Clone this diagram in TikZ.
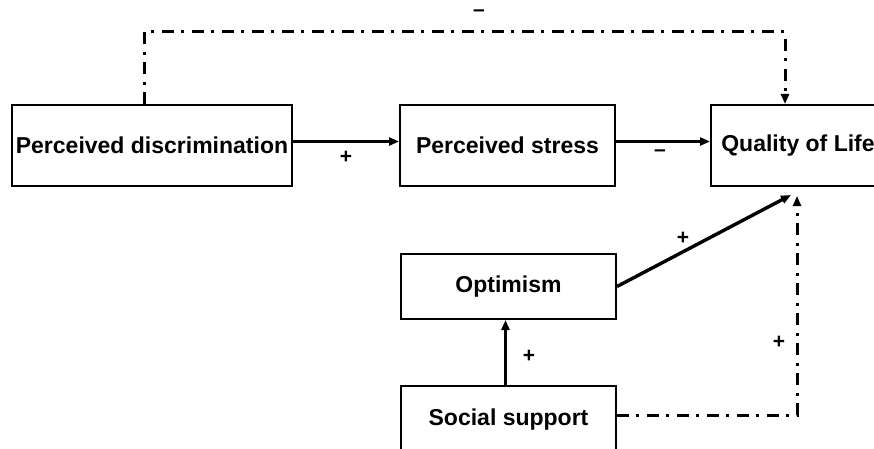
\documentclass[tikz,border=0pt]{standalone}
\usepackage{fontspec}
\setmainfont{Liberation Sans}
\usetikzlibrary{arrows.meta}
\begin{document}
\begin{tikzpicture}[x=1pt,y=-1pt,
  box/.style={draw, line width=2pt, inner sep=0pt, align=center,
    font=\bfseries\fontsize{23}{26}\selectfont},
  tip/.style={-{Triangle[length=10pt,width=8pt]}},
  link/.style={tip, line width=3.4pt},
  dashlink/.style={tip, line width=3pt, dash pattern=on 12pt off 7pt on 3pt off 8pt},
  sign/.style={font=\bfseries\fontsize{21}{24}\selectfont, inner sep=0pt}]
\useasboundingbox (0,0) rectangle (874,449);
\clip (0,0) rectangle (874,449);

% boxes
\node[box, minimum width=280pt, minimum height=81pt] (pd)  at (152,145.5) {Perceived discrimination};
\node[box, minimum width=215pt, minimum height=81pt] (ps)  at (507.5,145.5) {Perceived stress};
\node[box, minimum width=174pt, minimum height=81pt] (qol) at (798,145.5) {Quality of Life};
\node[box, minimum width=215pt, minimum height=65pt] (opt) at (508.5,286.5) {Optimism};
\node[box, minimum width=215pt, minimum height=68pt] (ss)  at (508.5,420) {Social support};

% direct paths
\draw[link] ([yshift=4pt]pd.east) -- ([yshift=4pt]ps.west);
\draw[link] ([yshift=4pt]ps.east) -- ([yshift=4pt]qol.west);
\coordinate (qolin) at ([xshift=-7pt,yshift=-8pt]qol.south);
\draw[link] (opt.east) -- (qolin);
\draw[link] ([xshift=-3pt]ss.north) -- ([xshift=-3pt]opt.south);

% indirect (dash-dot) paths
\coordinate (topl) at (144,32);
\draw[dashlink] ([xshift=-8pt]pd.north) -- (topl) -| ([xshift=-13pt]qol.north);
\coordinate (ssr) at (797,415);
\draw[dashlink] ([yshift=5pt]ss.east) -- (ssr) -- ([xshift=-1pt,yshift=-9pt]qol.south);

% signs
\node[sign] (s1) at (479,13) {--};
\node[sign] (s2) at (346,157) {+};
\node[sign] (s3) at (660,153) {--};
\node[sign] (s4) at (683,238) {+};
\node[sign] (s5) at (529,356) {+};
\node[sign] (s6) at (779,342) {+};
\end{tikzpicture}
\end{document}
